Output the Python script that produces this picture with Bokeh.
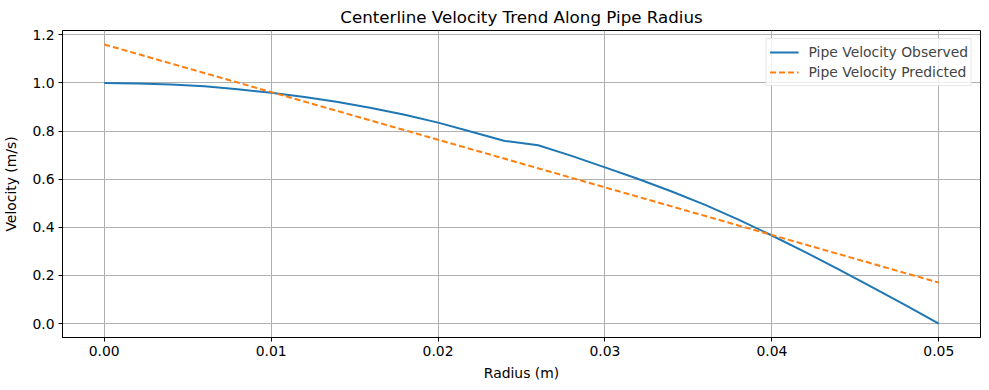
from bokeh.plotting import figure
from bokeh.models import Range1d, FixedTicker, NumeralTickFormatter, Legend, LegendItem
from bokeh.embed import file_html
from bokeh.resources import INLINE

# Data
radius_obs = [0.000, 0.002, 0.004, 0.006, 0.008, 0.010, 0.012, 0.014, 0.016, 0.018,
              0.020, 0.022, 0.024, 0.026, 0.028, 0.030, 0.032, 0.034, 0.036, 0.038,
              0.040, 0.042, 0.044, 0.046, 0.048, 0.050]
vel_obs = [1.000, 0.998, 0.994, 0.986, 0.974, 0.959, 0.942, 0.921, 0.896, 0.868,
           0.835, 0.797, 0.759, 0.741, 0.697, 0.649, 0.601, 0.549, 0.493, 0.432,
           0.366, 0.297, 0.225, 0.151, 0.077, 0.000]
radius_pred = [0.000, 0.050]
vel_pred = [1.160, 0.170]

x_ticks = [0.00, 0.01, 0.02, 0.03, 0.04, 0.05]
y_ticks = [0.0, 0.2, 0.4, 0.6, 0.8, 1.0, 1.2]

FONT = "DejaVu Sans"
FS = "13.9px"

p = figure(frame_width=918, frame_height=307, output_backend="svg", toolbar_location=None,
           x_range=Range1d(-0.0025, 0.0525), y_range=Range1d(-0.058, 1.218),
           min_border_left=54, min_border_right=1, min_border_top=22, min_border_bottom=45,
           title="Centerline Velocity Trend Along Pipe Radius")

p.title.align = "center"
p.title.text_font = FONT
p.title.text_font_size = "16.7px"
p.title.text_font_style = "normal"
p.title.text_color = "black"
p.title.standoff = 8

r1 = p.line(radius_obs, vel_obs, line_color="#1f77b4", line_width=2)
r2 = p.line(radius_pred, vel_pred, line_color="#ff7f0e", line_width=2, line_dash="6 3")

p.outline_line_color = "black"
p.outline_line_width = 1
p.background_fill_color = "white"
p.border_fill_color = "white"

for ax in (p.xaxis[0], p.yaxis[0]):
    ax.axis_line_color = "black"
    ax.major_tick_line_color = "black"
    ax.major_tick_out = 4
    ax.major_tick_in = 0
    ax.minor_tick_line_color = None
    ax.major_label_text_font = FONT
    ax.major_label_text_font_size = FS
    ax.major_label_text_color = "black"
    ax.axis_label_text_font = FONT
    ax.axis_label_text_font_size = FS
    ax.axis_label_text_font_style = "normal"
    ax.axis_label_text_color = "black"

p.xaxis[0].ticker = FixedTicker(ticks=x_ticks)
p.yaxis[0].ticker = FixedTicker(ticks=y_ticks)
p.xaxis[0].formatter = NumeralTickFormatter(format="0.00")
p.yaxis[0].formatter = NumeralTickFormatter(format="0.0")
p.xaxis[0].axis_label = "Radius (m)"
p.yaxis[0].axis_label = "Velocity (m/s)"
p.xaxis[0].major_label_standoff = 4
p.xaxis[0].axis_label_standoff = 6
p.yaxis[0].major_label_standoff = 4
p.yaxis[0].axis_label_standoff = 10

p.xgrid.grid_line_color = "#b0b0b0"
p.ygrid.grid_line_color = "#b0b0b0"
p.xgrid.grid_line_width = 1
p.ygrid.grid_line_width = 1
p.xgrid.ticker = FixedTicker(ticks=x_ticks)
p.ygrid.ticker = FixedTicker(ticks=y_ticks)

legend = Legend(items=[LegendItem(label="Pipe Velocity Observed", renderers=[r1]),
                       LegendItem(label="Pipe Velocity Predicted", renderers=[r2])],
                location="top_right")
legend.margin = 8
legend.padding = 3
legend.spacing = 0
legend.glyph_width = 29
legend.glyph_height = 20
legend.label_height = 20
legend.label_text_font = FONT
legend.label_text_font_size = FS
legend.label_standoff = 10
legend.border_line_color = "#d0d0d0"
legend.border_line_width = 1
legend.background_fill_alpha = 0.8
p.add_layout(legend)

open("out.html", "w").write(file_html(p, INLINE))
